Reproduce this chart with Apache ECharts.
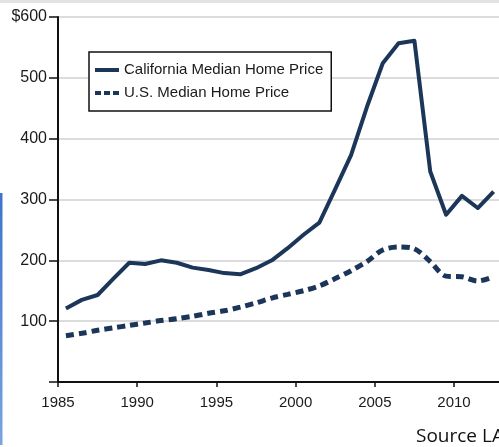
<!DOCTYPE html>
<html>
<head>
<meta charset="utf-8">
<script src="https://cdn.jsdelivr.net/npm/echarts@6/dist/echarts.min.js"></script>
<style>
html,body{margin:0;padding:0;background:#fff;}
#chart{width:499px;height:447px;}
</style>
</head>
<body>
<div id="chart"></div>
<script>
// Data (values in thousands of dollars, plotted at mid-year)
const years = [1985,1986,1987,1988,1989,1990,1991,1992,1993,1994,1995,1996,1997,1998,1999,2000,2001,2002,2003,2004,2005,2006,2007,2008,2009,2010,2011,2012];
const californiaPrice = [121,135,143,170,196,194,200,196,188,184,179,177,187,200,220,242,262,317,373,452,524,557,561,346,275,306,286,313];
const usPrice = [76,80,85,89,93,97,101,104,108,113,117,123,130,138,144,150,158,170,183,198,217,222,219,198,174,173,166,173];
const yTicks = [100,200,300,400,500,600];
const xTicks = [1985,1990,1995,2000,2005,2010];
const seriesNames = ['California Median Home Price','U.S. Median Home Price'];

const FONT = '"Liberation Sans",Arial,sans-serif';
const navy = '#1c3659';

const chart = echarts.init(document.getElementById('chart'), null, {renderer:'canvas'});
chart.setOption({
  backgroundColor:'#ffffff',
  animation:false,
  grid:{left:58, top:17, right:0, bottom:65, containLabel:false},
  legend:{
    orient:'vertical',
    left:89, top:52,
    padding:[9,8,9,6],
    itemGap:5,
    itemWidth:24, itemHeight:4,
    borderColor:'#111', borderWidth:1.5,
    backgroundColor:'#fff',
    textStyle:{fontFamily:FONT, fontSize:15, color:'#1a1a1a', lineHeight:18},
    data:[
      {name:seriesNames[0], icon:'rect', itemStyle:{color:navy}},
      {name:seriesNames[1], icon:'path://M0,0H6V4H0Z M9,0H15V4H9Z M18,0H24V4H18Z', itemStyle:{color:navy}}
    ]
  },
  xAxis:{
    type:'value', min:1985, max:2012.84, interval:5,
    axisLine:{show:true, onZero:false, lineStyle:{color:'#111', width:2}},
    axisTick:{show:true, length:5, lineStyle:{color:'#111', width:1.5}},
    axisLabel:{margin:13, fontFamily:FONT, fontSize:15, color:'#1a1a1a', showMaxLabel:false,
      formatter:v => xTicks.includes(v) ? String(v) : ''},
    splitLine:{show:false}
  },
  yAxis:{
    type:'value', min:0, max:600, interval:100,
    axisLine:{show:true, lineStyle:{color:'#111', width:2}},
    axisTick:{show:true, length:9, lineStyle:{color:'#111', width:1.5}},
    axisLabel:{margin:11, fontFamily:FONT, fontSize:16, color:'#1a1a1a',
      formatter:v => yTicks.includes(v) ? (v===600 ? '$600' : String(v)) : ''},
    splitLine:{show:true, lineStyle:{color:'#dcdcdc', width:2}}
  },
  series:[
    {
      name:seriesNames[0], type:'line', symbol:'none', smooth:false,
      lineStyle:{color:navy, width:4, join:'round'},
      itemStyle:{color:navy},
      data:years.map((y,i)=>[y+0.5, californiaPrice[i]])
    },
    {
      name:seriesNames[1], type:'line', symbol:'none', smooth:0.3,
      lineStyle:{color:navy, width:5, type:[8,5]},
      itemStyle:{color:navy},
      data:years.map((y,i)=>[y+0.5, usPrice[i]])
    }
  ],
  graphic:[
    {type:'rect', left:0, top:0, shape:{width:499, height:3}, style:{fill:'#e3e3e3'}, silent:true},
    {type:'rect', left:0, top:193, shape:{width:2.5, height:252},
      style:{fill:new echarts.graphic.LinearGradient(0,0,0,1,[{offset:0,color:'#3f73cc'},{offset:1,color:'#7aa4e0'}])}, silent:true},
    {type:'text', left:416, top:427, style:{text:'Source LA Times', fontFamily:'"Open Sans",sans-serif', fontSize:19, fill:'#111'}, silent:true}
  ]
});
</script>
</body>
</html>
